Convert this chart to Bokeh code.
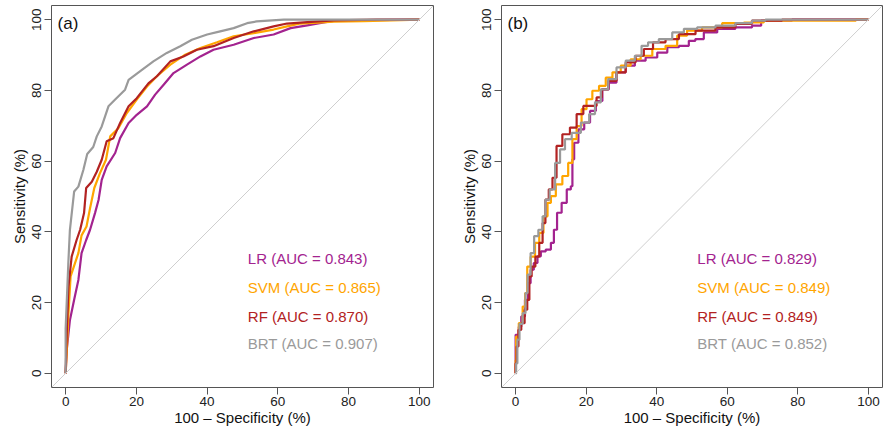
from bokeh.plotting import figure
from bokeh.layouts import row
from bokeh.models import Range1d, FixedTicker, Label, Slope
from bokeh.embed import file_html
from bokeh.resources import INLINE

# ---------------- data ----------------
models = ["LR", "SVM", "RF", "BRT"]
colors = ["#a3238f", "#ffa500", "#b22222", "#9a9a9a"]
ticks = [0, 20, 40, 60, 80, 100]

auc_a = ["0.843", "0.865", "0.870", "0.907"]
auc_b = ["0.829", "0.849", "0.849", "0.852"]

# panel (a)
a_lr_x = [0, 0.3, 1.2, 2.4, 3.6, 4.5, 5.8, 6.9, 8.3, 9.3, 10.2, 11.6, 14.0, 15.4, 17.8, 20.1, 23.0, 25.3, 27.7, 30.5, 34.3, 38.1, 41.8, 47.5, 53.2, 58.8, 63.6, 68.3, 73.0, 76.8, 100]
a_lr_y = [0, 6.6, 15.0, 20.8, 26.4, 34.0, 37.7, 40.6, 45.3, 49.0, 54.7, 58.5, 62.3, 66.5, 70.8, 73.1, 75.5, 78.8, 81.6, 84.9, 87.3, 89.6, 91.5, 92.9, 94.8, 95.8, 97.6, 98.4, 99.2, 99.8, 100]

a_svm_x = [0, 0.3, 0.8, 1.4, 2.6, 3.6, 4.5, 5.9, 6.9, 8.1, 9.7, 11.4, 12.6, 14.9, 17.3, 20.1, 23.0, 25.8, 29.6, 33.8, 38.1, 42.8, 47.5, 53.2, 58.8, 62.6, 66.4, 75.8, 84.3, 100]
a_svm_y = [0, 5.7, 17.0, 27.4, 31.0, 34.0, 39.0, 41.5, 46.7, 52.4, 56.6, 60.4, 67.0, 69.3, 73.6, 77.4, 81.1, 84.0, 87.3, 90.1, 92.0, 93.6, 95.3, 96.2, 97.2, 98.1, 98.9, 99.4, 99.6, 100]

a_rf_x = [0, 0.3, 0.8, 1.7, 3.1, 4.1, 5.2, 5.8, 7.4, 8.8, 10.2, 11.6, 13.5, 15.4, 17.8, 20.1, 23.4, 25.8, 29.6, 33.3, 37.1, 41.8, 47.5, 53.2, 58.8, 62.6, 68.3, 75.8, 88.0, 100]
a_rf_y = [0, 11.0, 24.5, 33.0, 37.7, 40.6, 45.3, 52.4, 54.2, 57.0, 60.4, 65.6, 66.5, 70.8, 75.5, 77.8, 82.0, 84.0, 88.2, 89.6, 91.5, 92.5, 94.8, 96.7, 98.1, 98.9, 99.3, 99.8, 100, 100]

a_brt_x = [0, 0, 0.75, 1.2, 2.4, 3.6, 5.0, 6.1, 7.8, 8.8, 10.2, 12.1, 14.0, 16.8, 17.8, 21.0, 24.8, 28.6, 32.4, 35.7, 40.0, 43.7, 47.5, 51.3, 54.0, 61.7, 100]
a_brt_y = [0, 12.7, 31.0, 40.5, 51.4, 52.8, 57.5, 62.0, 64.0, 67.0, 69.8, 75.5, 77.4, 80.2, 83.0, 85.4, 88.2, 90.6, 92.5, 94.3, 95.8, 96.7, 97.6, 99.0, 99.5, 100, 100]

# panel (b)
b_lr_x = [0, 0, 0, 0.8, 1.0, 2.2, 3.1, 3.9, 4.6, 5.7, 6.7, 7.6, 9.5, 10.5, 11.2, 12.3, 13.8, 15.2, 16.1, 16.1, 17.1, 18.5, 20.4, 21.8, 23.7, 25.5, 27.4, 29.8, 32.6, 35.0, 38.7, 41.6, 44.4, 48.2, 50.0, 51.9, 54.8, 59.5, 65.1, 68.9, 70.3, 77.4, 79.3, 100]
b_lr_y = [0, 3.8, 10.9, 10.9, 13.2, 16.1, 20.8, 25.5, 29.3, 31.2, 33.1, 34.5, 35.0, 36.9, 40.6, 45.4, 48.2, 52.0, 52.9, 60.5, 65.2, 69.0, 70.9, 74.2, 77.0, 80.3, 82.2, 85.1, 87.0, 88.4, 89.3, 90.7, 92.2, 92.6, 94.0, 94.5, 96.4, 97.4, 97.8, 98.3, 99.7, 99.7, 100, 100]

b_svm_x = [0, 0, 0.3, 1.5, 2.5, 2.9, 3.7, 4.8, 6.2, 7.2, 8.6, 9.5, 10.5, 12.3, 14.2, 15.6, 16.6, 18.0, 19.4, 20.8, 22.7, 24.6, 26.5, 28.4, 31.2, 34.0, 36.9, 40.6, 44.4, 47.2, 50.0, 55.7, 61.4, 68.0, 72.7, 82.1, 92.9, 100]
b_svm_y = [0, 3.8, 10.4, 14.2, 18.9, 22.7, 30.2, 33.0, 36.9, 39.7, 44.4, 48.2, 50.1, 53.4, 55.8, 59.5, 66.2, 69.9, 74.7, 77.5, 79.9, 81.3, 83.6, 85.1, 87.0, 88.8, 89.8, 91.7, 92.6, 95.5, 96.9, 97.8, 99.0, 99.2, 99.7, 99.7, 99.7, 100]

b_rf_x = [0, 0, 0.6, 1.0, 2.2, 2.9, 3.7, 4.1, 5.0, 6.2, 7.2, 8.1, 8.8, 10.0, 10.9, 12.3, 14.2, 16.6, 18.0, 20.4, 22.2, 23.7, 25.1, 27.4, 29.8, 32.6, 35.4, 37.3, 40.6, 44.4, 48.2, 53.8, 59.5, 65.1, 68.9, 82.1, 100]
b_rf_y = [0, 2.8, 7.6, 12.3, 14.2, 18.0, 20.8, 27.4, 30.2, 33.0, 36.9, 42.5, 49.1, 52.0, 55.3, 64.3, 67.6, 69.5, 73.3, 75.6, 75.6, 78.0, 80.3, 82.7, 85.1, 87.9, 89.8, 91.7, 93.6, 94.5, 95.9, 96.9, 97.8, 98.8, 99.7, 100, 100]

b_brt_x = [0, 0.3, 0.7, 1.5, 2.5, 3.1, 3.7, 4.8, 5.7, 7.2, 8.1, 8.8, 10.5, 11.9, 13.3, 14.7, 17.1, 19.9, 21.8, 23.2, 25.1, 27.4, 29.8, 32.6, 35.0, 36.4, 38.7, 42.5, 46.3, 49.1, 53.8, 59.5, 65.1, 68.9, 72.7, 100]
b_brt_y = [0, 2.8, 9.5, 14.0, 17.0, 22.7, 27.9, 34.0, 38.8, 40.6, 44.4, 49.1, 52.0, 59.5, 63.3, 66.2, 68.0, 70.9, 73.3, 76.6, 80.3, 83.2, 86.5, 88.4, 89.8, 92.6, 93.6, 94.5, 96.4, 97.4, 97.8, 98.3, 99.0, 99.7, 100, 100]

FONT = "Liberation Sans"


def make_panel(tag, curves, aucs, width, left, right, stepped):
    p = figure(width=width, height=430,
               x_range=Range1d(-4, 104), y_range=Range1d(-4, 104),
               output_backend="svg", toolbar_location=None,
               min_border_left=left, min_border_right=right,
               min_border_top=5, min_border_bottom=43)
    p.grid.visible = False
    p.background_fill_color = "white"
    p.border_fill_color = "white"
    p.outline_line_color = "#555555"
    p.outline_line_width = 1
    p.outline_line_alpha = 1

    for ax in (p.xaxis[0], p.yaxis[0]):
        ax.ticker = FixedTicker(ticks=ticks)
        ax.minor_tick_line_color = None
        ax.axis_line_color = None
        ax.major_tick_line_color = "#555555"
        ax.major_tick_out = 7
        ax.major_tick_in = 0
        ax.major_label_text_font = FONT
        ax.major_label_text_font_size = "13.5px"
        ax.major_label_text_color = "#222222"
        ax.axis_label_text_font = FONT
        ax.axis_label_text_font_size = "15px"
        ax.axis_label_text_font_style = "normal"
        ax.axis_label_text_color = "#111111"
    p.xaxis.axis_label = "100 \u2013 Specificity (%)"
    p.yaxis.axis_label = "Sensitivity (%)"
    p.xaxis.major_label_standoff = 2
    p.xaxis.axis_label_standoff = 0
    p.yaxis.major_label_standoff = 3
    p.yaxis.axis_label_standoff = 2
    p.yaxis.major_label_orientation = "vertical"

    p.add_layout(Slope(gradient=1, y_intercept=0, line_color="#cfcfcf", line_width=1))

    for (xs, ys), col in zip(curves, colors):
        if stepped:
            p.step(xs, ys, line_color=col, line_width=2.2, mode="center")
        else:
            p.line(xs, ys, line_color=col, line_width=2.2)

    p.add_layout(Label(x=-2.3, y=98.8, text=tag, text_font=FONT, text_font_size="17px",
                       text_color="#111111", text_baseline="middle", text_align="left"))
    ys_leg = [32.4, 24.3, 16.2, 8.3]
    for m, a, col, yy in zip(models, aucs, colors, ys_leg):
        p.add_layout(Label(x=51.5, y=yy, text=f"{m} (AUC = {a})", text_font=FONT,
                           text_font_size="15px", text_color=col,
                           text_baseline="middle", text_align="left"))
    return p


pa = make_panel("(a)", [(a_lr_x, a_lr_y), (a_svm_x, a_svm_y), (a_rf_x, a_rf_y), (a_brt_x, a_brt_y)],
                auc_a, 441, 51, 8, False)
pb = make_panel("(b)", [(b_lr_x, b_lr_y), (b_svm_x, b_svm_y), (b_rf_x, b_rf_y), (b_brt_x, b_brt_y)],
                auc_b, 442, 60, 1, True)

layout = row(pa, pb)
open("out.html", "w").write(file_html(layout, INLINE))
